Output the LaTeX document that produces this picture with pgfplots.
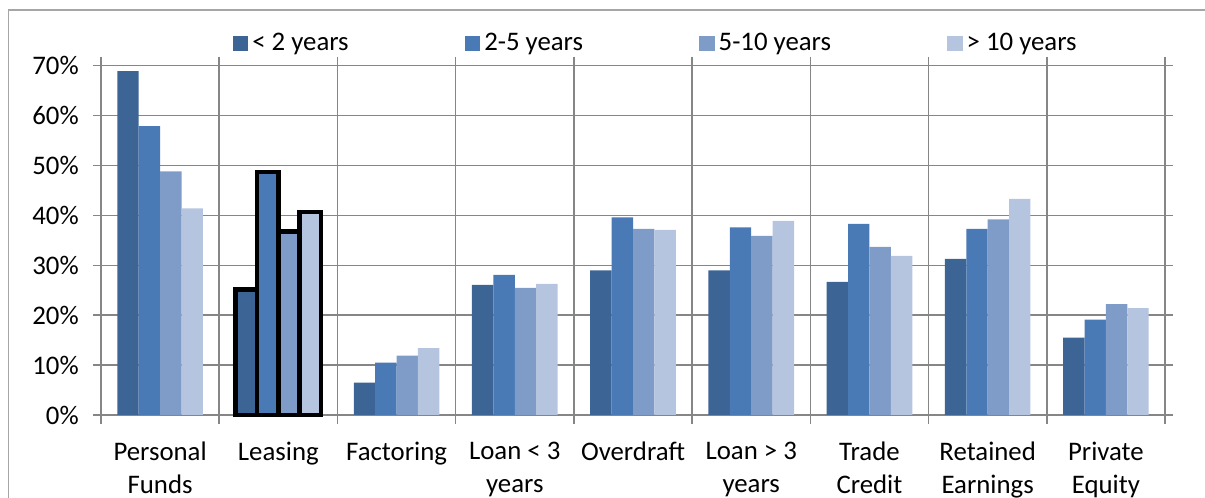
\documentclass[border=0pt]{standalone}
\usepackage{pgfplots}
\pgfplotsset{compat=1.18}
\usepackage{fontspec}
\setmainfont{Carlito}
\definecolor{c1}{HTML}{3C6595}
\definecolor{c2}{HTML}{4A7AB6}
\definecolor{c3}{HTML}{7F9CC9}
\definecolor{c4}{HTML}{B5C4DF}
\definecolor{gridc}{HTML}{868686}
\newcommand{\cfont}{\fontsize{13.4pt}{16.7pt}\selectfont}
\begin{document}
\cfont
\begin{tikzpicture}
\useasboundingbox (0,0) rectangle (602.5pt,249pt);
\draw[color=gray!70, line width=0.8pt] (4.2pt,-20pt) -- (4.2pt,244pt) -- (620pt,244pt);
\begin{axis}[
  at={(50.5pt,41.5pt)}, anchor=south west,
  scale only axis, width=532pt, height=174.65pt,
  xmin=-0.5, xmax=8.5, ymin=0, ymax=70,
  clip=false,
  xtick={0,...,8},
  xticklabels={{Personal\\Funds},Leasing,Factoring,{Loan < 3\\years},Overdraft,{Loan > 3\\years},{Trade\\Credit},{Retained\\Earnings},{Private\\Equity}},
  xticklabel style={align=center, font=\cfont, yshift=-4.8pt},
  major x tick style={draw=none},
  minor xtick={-0.5,0.5,...,8.5},
  xminorgrids=true,
  ymajorgrids=true,
  ytick={0,10,...,70},
  yticklabel={\pgfmathprintnumber{\tick}\%},
  /pgf/number format/assume math mode=true,
  yticklabel style={font=\cfont, xshift=-2.5pt},
  tick align=outside,
  major tick length=4pt,
  minor tick length=4.5pt,
  tick style={gridc, line width=0.75pt},
  minor tick style={gridc, line width=0.75pt},
  grid style={gridc, line width=0.75pt},
  minor grid style={gridc, line width=0.75pt},
  axis line style={gridc, line width=0.75pt},
  legend columns=4,
  legend style={at={(0,1)}, anchor=west, xshift=65.85pt, yshift=11.1pt,
    draw=none, fill=none, inner sep=0pt, outer sep=0pt,
    font=\cfont,
    /tikz/every even column/.append style={column sep=56pt}},
  legend image code/.code={\path[#1,draw=none] (0pt,-3.9pt) rectangle (7.8pt,3.9pt);},
]
\addplot[ybar, bar width=0.181, bar shift=-0.2715, fill=c1, draw=none] coordinates {
 (0,68.9) (1,25.1) (2,6.5) (3,26.1) (4,29.0) (5,29.0) (6,26.7) (7,31.3) (8,15.5)};
\addlegendentry{< 2 years}
\addplot[ybar, bar width=0.181, bar shift=-0.0905, fill=c2, draw=none] coordinates {
 (0,57.9) (1,48.7) (2,10.5) (3,28.1) (4,39.6) (5,37.6) (6,38.3) (7,37.3) (8,19.1)};
\addlegendentry{2-5 years}
\addplot[ybar, bar width=0.181, bar shift=0.0905, fill=c3, draw=none] coordinates {
 (0,48.8) (1,36.8) (2,11.9) (3,25.5) (4,37.3) (5,35.9) (6,33.7) (7,39.2) (8,22.2)};
\addlegendentry{5-10 years}
\addplot[ybar, bar width=0.181, bar shift=0.2715, fill=c4, draw=none] coordinates {
 (0,41.4) (1,40.7) (2,13.4) (3,26.3) (4,37.1) (5,38.9) (6,31.9) (7,43.3) (8,21.4)};
\addlegendentry{> 10 years}
% highlighted Leasing bars
\addplot[ybar, bar width=0.181, bar shift=-0.2715, fill=c1, draw=black, line width=2.3pt, forget plot] coordinates {(1,25.1)};
\addplot[ybar, bar width=0.181, bar shift=-0.0905, fill=c2, draw=black, line width=2.3pt, forget plot] coordinates {(1,48.7)};
\addplot[ybar, bar width=0.181, bar shift=0.0905, fill=c3, draw=black, line width=2.3pt, forget plot] coordinates {(1,36.8)};
\addplot[ybar, bar width=0.181, bar shift=0.2715, fill=c4, draw=black, line width=2.3pt, forget plot] coordinates {(1,40.7)};
\end{axis}
\end{tikzpicture}
\end{document}
